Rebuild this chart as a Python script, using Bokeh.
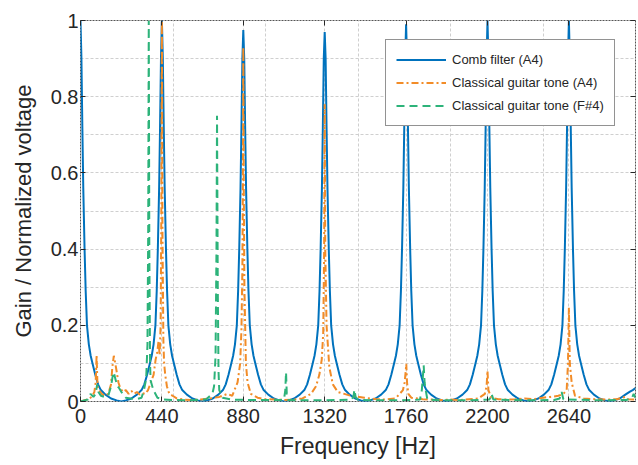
from bokeh.plotting import figure
from bokeh.models import Range1d, FixedTicker, LinearAxis
from bokeh.embed import file_html
from bokeh.resources import INLINE

# Comb filter gain (tuned to A4), one tooth every 440 Hz
comb_hz = [
    0, 5, 10, 15, 22, 28, 35, 45, 55, 65, 80, 95, 110, 135, 165, 195, 220, 245, 275, 305, 330, 345, 360, 375, 385, 395, 405, 412, 418, 425, 430, 435,
    440, 445, 450, 455, 462, 468, 475, 485, 495, 505, 520, 535, 550, 575, 605, 635, 660, 685, 715, 745, 770, 785, 800, 815, 825, 835, 845, 852, 858, 865, 870, 875,
    880, 885, 890, 895, 902, 908, 915, 925, 935, 945, 960, 975, 990, 1015, 1045, 1075, 1100, 1125, 1155, 1185, 1210, 1225, 1240, 1255, 1265, 1275, 1285, 1292, 1298, 1305, 1310, 1315,
    1320, 1325, 1330, 1335, 1342, 1348, 1355, 1365, 1375, 1385, 1400, 1415, 1430, 1455, 1485, 1515, 1540, 1565, 1595, 1625, 1650, 1665, 1680, 1695, 1705, 1715, 1725, 1732, 1738, 1745, 1750, 1755,
    1760, 1765, 1770, 1775, 1782, 1788, 1795, 1805, 1815, 1825, 1840, 1855, 1870, 1895, 1925, 1955, 1980, 2005, 2035, 2065, 2090, 2105, 2120, 2135, 2145, 2155, 2165, 2172, 2178, 2185, 2190, 2195,
    2200, 2205, 2210, 2215, 2222, 2228, 2235, 2245, 2255, 2265, 2280, 2295, 2310, 2335, 2365, 2395, 2420, 2445, 2475, 2505, 2530, 2545, 2560, 2575, 2585, 2595, 2605, 2612, 2618, 2625, 2630, 2635,
    2640, 2645, 2650, 2655, 2662, 2668, 2675, 2685, 2695, 2705, 2720, 2735, 2750, 2775, 2805, 2835, 2860, 2885, 2915, 2945, 2970, 2985, 3000,
]
comb_gain = [
    1.0, 0.9, 0.72, 0.56, 0.4, 0.29, 0.2, 0.15, 0.12, 0.1, 0.07, 0.045, 0.03, 0.018, 0.008, 0.003, 0.0, 0.003, 0.008, 0.018, 0.03, 0.045, 0.07, 0.1, 0.12, 0.15, 0.2, 0.29, 0.4, 0.56, 0.72, 0.9,
    1.0, 0.9, 0.72, 0.56, 0.4, 0.29, 0.2, 0.15, 0.12, 0.1, 0.07, 0.045, 0.03, 0.018, 0.008, 0.003, 0.0, 0.003, 0.008, 0.018, 0.03, 0.045, 0.07, 0.1, 0.12, 0.15, 0.2, 0.29, 0.4, 0.56, 0.72, 0.9,
    0.975, 0.9, 0.72, 0.56, 0.4, 0.29, 0.2, 0.15, 0.12, 0.1, 0.07, 0.045, 0.03, 0.018, 0.008, 0.003, 0.0, 0.003, 0.008, 0.018, 0.03, 0.045, 0.07, 0.1, 0.12, 0.15, 0.2, 0.29, 0.4, 0.56, 0.72, 0.9,
    0.97, 0.9, 0.72, 0.56, 0.4, 0.29, 0.2, 0.15, 0.12, 0.1, 0.07, 0.045, 0.03, 0.018, 0.008, 0.003, 0.0, 0.003, 0.008, 0.018, 0.03, 0.045, 0.07, 0.1, 0.12, 0.15, 0.2, 0.29, 0.4, 0.56, 0.72, 0.9,
    0.99, 0.9, 0.72, 0.56, 0.4, 0.29, 0.2, 0.15, 0.12, 0.1, 0.07, 0.045, 0.03, 0.018, 0.008, 0.003, 0.0, 0.003, 0.008, 0.018, 0.03, 0.045, 0.07, 0.1, 0.12, 0.15, 0.2, 0.29, 0.4, 0.56, 0.72, 0.9,
    1.0, 0.9, 0.72, 0.56, 0.4, 0.29, 0.2, 0.15, 0.12, 0.1, 0.07, 0.045, 0.03, 0.018, 0.008, 0.003, 0.0, 0.003, 0.008, 0.018, 0.03, 0.045, 0.07, 0.1, 0.12, 0.15, 0.2, 0.29, 0.4, 0.56, 0.72, 0.9,
    1.0, 0.9, 0.72, 0.56, 0.4, 0.29, 0.2, 0.15, 0.12, 0.1, 0.07, 0.045, 0.03, 0.018, 0.008, 0.003, 0.0, 0.003, 0.008, 0.018, 0.026, 0.03, 0.035,
]

# Normalized spectrum of a classical guitar tone, A4
a4_hz = [
    0, 20, 40, 60, 75, 82, 87, 92, 100, 115, 130, 150, 165, 172, 180, 188, 195, 205, 215, 230,
    245, 260, 275, 290, 305, 320, 335, 350, 365, 380, 395, 406, 415, 422, 428, 433, 437, 440, 443, 448,
    452, 458, 467, 480, 498, 520, 560, 600, 650, 700, 750, 795, 820, 849, 863, 870, 875, 878, 880, 882,
    886, 894, 903, 921, 957, 1000, 1050, 1100, 1150, 1200, 1246, 1273, 1291, 1304, 1312, 1317, 1320, 1323, 1330, 1345,
    1364, 1391, 1426, 1460, 1535, 1600, 1650, 1700, 1716, 1743, 1752, 1758, 1761, 1765, 1772, 1788, 1850, 1900, 1950, 2000,
    2050, 2100, 2150, 2186, 2195, 2200, 2205, 2220, 2260, 2300, 2350, 2400, 2450, 2500, 2540, 2583, 2610, 2628, 2635, 2640,
    2645, 2655, 2673, 2720, 2780, 2850, 2900, 2943, 2960, 3000,
]
a4_amp = [
    0.0, 0.003, 0.006, 0.012, 0.025, 0.05, 0.121, 0.04, 0.03, 0.02, 0.015, 0.02, 0.045, 0.09, 0.12, 0.10, 0.08, 0.05, 0.035, 0.025,
    0.03, 0.02, 0.028, 0.02, 0.025, 0.018, 0.022, 0.02, 0.03, 0.05, 0.07, 0.11, 0.13, 0.16, 0.12, 0.2, 0.5, 1.0, 0.45, 0.16,
    0.1, 0.07, 0.04, 0.02, 0.015, 0.008, 0.005, 0.004, 0.005, 0.008, 0.012, 0.02, 0.015, 0.05, 0.1, 0.19, 0.35, 0.6, 0.93, 0.6,
    0.3, 0.1, 0.05, 0.02, 0.01, 0.006, 0.005, 0.004, 0.005, 0.008, 0.02, 0.04, 0.07, 0.11, 0.18, 0.4, 0.78, 0.4, 0.2, 0.09,
    0.045, 0.025, 0.02, 0.015, 0.01, 0.006, 0.005, 0.008, 0.015, 0.03, 0.05, 0.08, 0.099, 0.05, 0.02, 0.01, 0.006, 0.005, 0.004, 0.005,
    0.004, 0.006, 0.008, 0.02, 0.04, 0.081, 0.03, 0.01, 0.006, 0.005, 0.006, 0.008, 0.006, 0.01, 0.012, 0.015, 0.02, 0.03, 0.1, 0.247,
    0.1, 0.05, 0.015, 0.008, 0.006, 0.005, 0.006, 0.012, 0.006, 0.005,
]

# Normalized spectrum of a classical guitar tone, F#4
fs4_hz = [
    0, 20, 40, 54, 70, 82, 90, 97, 110, 130, 150, 165, 175, 180, 188, 200, 209, 227, 245, 270,
    300, 330, 343, 355, 362, 366, 369, 372, 376, 379, 394, 416, 450, 500, 560, 620, 680, 713, 722, 730,
    735, 738, 742, 746, 750, 768, 820, 900, 1000, 1080, 1100, 1107, 1111, 1115, 1122, 1200, 1300, 1400, 1465, 1475,
    1481, 1487, 1500, 1600, 1700, 1800, 1835, 1845, 1850, 1855, 1860, 1866, 1875, 1950, 2100, 2210, 2222, 2232, 2400, 2560,
    2590, 2601, 2610, 2800, 2950, 2980, 2990, 3000,
]
fs4_amp = [
    0.0, 0.003, 0.005, 0.02, 0.012, 0.02, 0.045, 0.025, 0.015, 0.012, 0.015, 0.04, 0.07, 0.077, 0.06, 0.04, 0.035, 0.02, 0.01, 0.008,
    0.006, 0.01, 0.03, 0.06, 0.15, 0.45, 1.0, 0.4, 0.1, 0.055, 0.03, 0.01, 0.005, 0.004, 0.003, 0.004, 0.006, 0.02, 0.04, 0.12,
    0.4, 0.75, 0.3, 0.08, 0.03, 0.01, 0.005, 0.004, 0.004, 0.004, 0.005, 0.03, 0.077, 0.02, 0.004, 0.003, 0.003, 0.004, 0.005, 0.012,
    0.031, 0.012, 0.004, 0.003, 0.003, 0.004, 0.005, 0.03, 0.06, 0.095, 0.05, 0.03, 0.005, 0.003, 0.003, 0.005, 0.02, 0.005, 0.003, 0.004,
    0.008, 0.025, 0.006, 0.003, 0.004, 0.008, 0.02, 0.01,
]

x_ticks = [0, 440, 880, 1320, 1760, 2200, 2640]
x_tick_labels = ["0", "440", "880", "1320", "1760", "2200", "2640"]
x_grid = [0, 440, 500, 880, 1000, 1320, 1500, 1760, 2000, 2200, 2500, 2640, 3000]
y_ticks = [0, 0.2, 0.4, 0.6, 0.8, 1]
y_tick_labels = ["0", "0.2", "0.4", "0.6", "0.8", "1"]
y_grid = [0, 0.1, 0.2, 0.3, 0.4, 0.5, 0.6, 0.7, 0.8, 0.9, 1.0]

FONT = "Liberation Sans"
INK = "#262626"

p = figure(width=638, height=465, output_backend="svg", toolbar_location=None,
           x_range=Range1d(0, 3000), y_range=Range1d(0, 1),
           min_border_left=80, min_border_right=3, min_border_top=20, min_border_bottom=64,
           background_fill_color="white", border_fill_color="white")

p.line(comb_hz, comb_gain, line_color="#0072BD", line_width=2, legend_label="Comb filter (A4)")
p.line(a4_hz, a4_amp, line_color="#F28C28", line_width=2, line_dash="7 3 2 3",
       legend_label="Classical guitar tone (A4)")
p.line(fs4_hz, fs4_amp, line_color="#2DB37A", line_width=2, line_dash="8 5",
       legend_label="Classical guitar tone (F#4)")

# grid
p.xgrid.ticker = FixedTicker(ticks=x_grid)
p.ygrid.ticker = FixedTicker(ticks=y_grid)
for g in (p.xgrid, p.ygrid):
    g.grid_line_color = "#cfcfcf"
    g.grid_line_dash = "3 2"
    g.grid_line_width = 1

# axes
xa = p.xaxis[0]
ya = p.yaxis[0]
xa.ticker = FixedTicker(ticks=x_ticks)
ya.ticker = FixedTicker(ticks=y_ticks)
xa.major_label_overrides = dict(zip(x_ticks, x_tick_labels))
ya.major_label_overrides = dict(zip(y_ticks, y_tick_labels))
xa.axis_label = "Frequency [Hz]"
ya.axis_label = "Gain / Normalized voltage"
for ax in (xa, ya):
    ax.axis_line_color = None
    ax.major_tick_in = 5
    ax.major_tick_out = 0
    ax.minor_tick_line_color = None
    ax.major_tick_line_color = INK
    ax.major_label_text_font = FONT
    ax.major_label_text_font_size = "20px"
    ax.major_label_text_color = INK
    ax.axis_label_text_font = FONT
    ax.axis_label_text_font_style = "normal"
    ax.axis_label_text_color = INK
xa.axis_label_text_font_size = "23px"
ya.axis_label_text_font_size = "22px"
xa.major_label_standoff = 7
xa.axis_label_standoff = 7
ya.major_label_standoff = 2
ya.axis_label_standoff = 12

# mirrored ticks on the top and right edges (no labels)
top = LinearAxis(ticker=FixedTicker(ticks=x_ticks))
right = LinearAxis(ticker=FixedTicker(ticks=y_ticks))
for ax in (top, right):
    ax.axis_line_color = None
    ax.major_tick_in = 5
    ax.major_tick_out = 0
    ax.minor_tick_line_color = None
    ax.major_tick_line_color = INK
    ax.major_label_text_font_size = "1px"
    ax.major_label_text_color = None
    ax.major_label_standoff = 0
p.add_layout(top, "above")
p.add_layout(right, "right")

p.outline_line_color = "#555555"
p.outline_line_width = 1
p.outline_line_dash = "2 1"

# legend
lg = p.legend[0]
lg.location = (305, 275)
lg.label_text_font = FONT
lg.label_text_font_size = "13px"
lg.label_text_color = INK
lg.glyph_width = 50
lg.glyph_height = 19
lg.label_standoff = 6
lg.spacing = 4
lg.padding = 10
lg.margin = 0
lg.border_line_color = INK
lg.border_line_width = 1
lg.background_fill_color = "white"
lg.background_fill_alpha = 1

open("out.html", "w").write(file_html(p, INLINE))
